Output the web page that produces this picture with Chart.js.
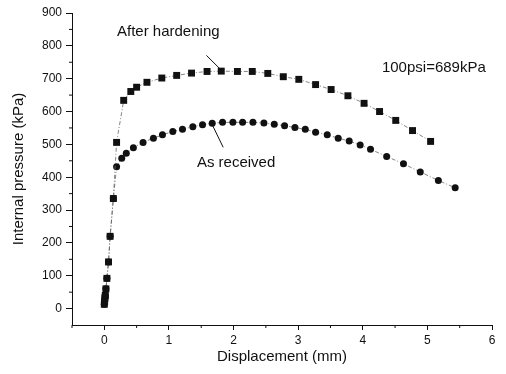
<!DOCTYPE html>
<html>
<head>
<meta charset="utf-8">
<script src="https://cdn.jsdelivr.net/npm/chart.js@4/dist/chart.umd.min.js"></script>
<style>
  html, body { margin: 0; padding: 0; background: #fff; }
  #wrap { width: 506px; height: 374px; }
</style>
</head>
<body>
<div id="wrap"><canvas id="chart"></canvas></div>
<script>
// initial loading ramp, same for both specimens
const rampX = [0.0, 0.005, 0.01, 0.015, 0.025, 0.04, 0.065, 0.09, 0.14];
const rampY = [13, 22, 33, 40, 60, 92, 142, 220, 335];

// after hardening (squares)
const hardenedX = [0.19, 0.30, 0.41, 0.50, 0.66, 0.89, 1.12, 1.35, 1.59, 1.81, 2.06, 2.29, 2.53, 2.77, 3.01, 3.27, 3.51, 3.77, 4.02, 4.26, 4.51, 4.77, 5.05];
const hardenedY = [506, 634, 661, 674, 689, 702, 710, 717, 722, 723, 722, 722, 716, 706, 698, 682, 667, 648, 625, 600, 573, 542, 509];

// as received (circles)
const receivedX = [0.19, 0.27, 0.34, 0.45, 0.60, 0.76, 0.90, 1.06, 1.21, 1.37, 1.52, 1.67, 1.83, 1.99, 2.14, 2.30, 2.47, 2.63, 2.79, 2.95, 3.11, 3.27, 3.45, 3.62, 3.79, 3.96, 4.12, 4.37, 4.63, 4.89, 5.17, 5.43];
const receivedY = [432, 458, 473, 490, 506, 519, 529, 539, 546, 554, 560, 564, 567, 567, 567, 567, 565, 561, 557, 551, 546, 537, 529, 519, 510, 498, 485, 463, 441, 416, 390, 368];

const xTicks = [0, 1, 2, 3, 4, 5, 6];
const yTicks = [0, 100, 200, 300, 400, 500, 600, 700, 800, 900];

const toPoints = (xs, ys) => xs.map((x, i) => ({ x: x, y: ys[i] }));

const ink = '#111';
const lineStyle = {
    showLine: true,
    borderColor: '#666',
    borderWidth: 0.8,
    borderDash: [4, 2, 1, 2],
    backgroundColor: ink,
    pointBorderColor: ink,
    pointBorderWidth: 0,
};

// labels, arrows and short minor ticks
const extras = {
    id: 'extras',
    afterDraw(chart) {
        const ctx = chart.ctx;
        const xs = chart.scales.x, ys = chart.scales.y;
        const px = v => xs.getPixelForValue(v);
        const py = v => ys.getPixelForValue(v);
        ctx.save();
        ctx.strokeStyle = ink;
        ctx.lineWidth = 1;
        // minor ticks
        ctx.beginPath();
        for (let v = -0.5; v < 6; v += 1) {
            ctx.moveTo(px(v), ys.bottom);
            ctx.lineTo(px(v), ys.bottom + 3);
        }
        for (let v = 50; v < 900; v += 100) {
            ctx.moveTo(xs.left, py(v));
            ctx.lineTo(xs.left - 3, py(v));
        }
        // arrows
        ctx.moveTo(px(1.58), py(771));
        ctx.lineTo(px(1.80), py(728));
        ctx.moveTo(px(1.67), py(560));
        ctx.lineTo(px(1.84), py(491));
        ctx.stroke();

        ctx.fillStyle = ink;
        ctx.font = '15px "Liberation Sans", Arial, sans-serif';
        ctx.textAlign = 'center';
        ctx.textBaseline = 'middle';
        ctx.fillText('After hardening', px(0.99), py(844));
        ctx.fillText('100psi=689kPa', px(5.10), py(733));
        ctx.fillText('As received', px(2.04), py(444));
        ctx.restore();
    }
};

const font12 = { family: '"Liberation Sans", Arial, sans-serif', size: 12 };
const font15 = { family: '"Liberation Sans", Arial, sans-serif', size: 15 };

new Chart(document.getElementById('chart'), {
    type: 'scatter',
    data: {
        datasets: [
            {
                ...lineStyle,
                label: 'After hardening',
                data: toPoints(rampX.concat(hardenedX), rampY.concat(hardenedY)),
                pointStyle: 'rect',
                pointRadius: 4.9,
            },
            {
                ...lineStyle,
                label: 'As received',
                data: toPoints(rampX.concat(receivedX), rampY.concat(receivedY)),
                pointStyle: 'circle',
                pointRadius: 3.5,
            },
        ],
    },
    options: {
        responsive: true,
        maintainAspectRatio: false,
        animation: false,
        layout: { padding: { top: 13, right: 14, left: 0, bottom: 0 } },
        plugins: {
            legend: { display: false },
            tooltip: { enabled: false },
        },
        scales: {
            x: {
                type: 'linear',
                min: -0.5,
                max: 6,
                afterFit: s => { s.height = 49; },
                afterBuildTicks: s => { s.ticks = xTicks.map(v => ({ value: v })); },
                ticks: { color: ink, font: font12, padding: 3, maxRotation: 0 },
                grid: { drawOnChartArea: false, tickLength: 5, color: ink },
                border: { color: ink, width: 1 },
                title: { display: true, text: 'Displacement (mm)', color: ink, font: font15, padding: { top: 0, bottom: 8 } },
            },
            y: {
                type: 'linear',
                min: -50,
                max: 900,
                afterFit: s => { s.width = 72; },
                afterBuildTicks: s => { s.ticks = yTicks.map(v => ({ value: v })); },
                ticks: { color: ink, font: font12, padding: 4 },
                grid: { drawOnChartArea: false, tickLength: 6, color: ink },
                border: { color: ink, width: 1 },
                title: { display: true, text: 'Internal pressure (kPa)', color: ink, font: font15, padding: { top: 10, bottom: 0 } },
            },
        },
    },
    plugins: [extras],
});
</script>
</body>
</html>
